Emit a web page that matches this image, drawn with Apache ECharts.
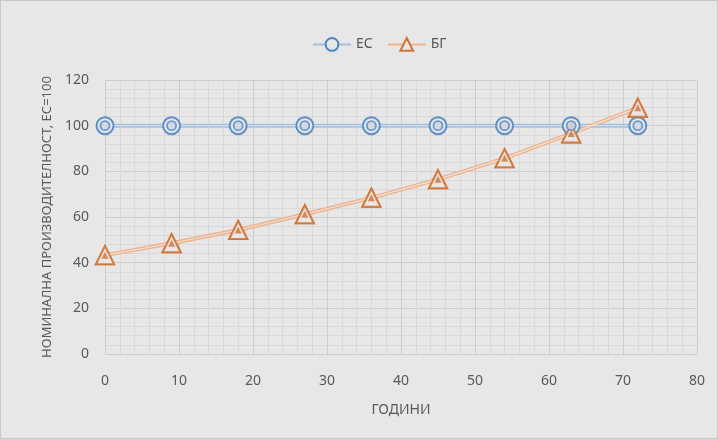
<!DOCTYPE html>
<html><head><meta charset="utf-8">
<script src="https://cdn.jsdelivr.net/npm/echarts@6/dist/echarts.min.js"></script>
<style>html,body{margin:0;padding:0;background:#e7e7e7;}#c{width:718px;height:439px;box-sizing:border-box;border:1px solid #c8c8c8;}</style>
</head><body><div id="c"></div>
<script>
var years = [0, 9, 18, 27, 36, 45, 54, 63, 72];
var esValues = [100, 100, 100, 100, 100, 100, 100, 100, 100];
var bgValues = [43.3, 48.5, 54.3, 61.2, 68.4, 76.5, 85.7, 96.6, 107.8];
var xTicks = {min: 0, max: 80, interval: 10};
var yTicks = {min: 0, max: 120, interval: 20};

function pts(v){ return years.map(function(x,i){ return [x, v[i]]; }); }
var bg = '#e7e7e7';
var blue = '#4f86c0', blueLine = '#a6c0de';
var orange = '#d27336', orangeLine = '#efb38c';
var font = '"Noto Sans", sans-serif';

var chart = echarts.init(document.getElementById('c'));
chart.setOption({
  backgroundColor: bg,
  animation: false,
  legend: {
    top: 31, left: 306, itemWidth: 38, itemHeight: 16, itemGap: 14,
    textStyle: {color: '#595959', fontSize: 14, fontFamily: font},
    data: ['ЕС', 'БГ']
  },
  grid: {left: 104, right: 20, top: 79, bottom: 84},
  xAxis: {
    type: 'value', min: xTicks.min, max: xTicks.max, interval: xTicks.interval,
    name: 'ГОДИНИ', nameLocation: 'middle', nameGap: 49,
    nameTextStyle: {color: '#595959', fontSize: 14, fontFamily: font},
    axisLine: {show: false}, axisTick: {show: false},
    axisLabel: {color: '#595959', fontSize: 14, fontFamily: font, margin: 20},
    splitLine: {lineStyle: {color: '#cdcdcd', width: 1}},
    minorTick: {show: false, splitNumber: 5},
    minorSplitLine: {show: true, lineStyle: {color: '#d9d9d9', width: 1}}
  },
  yAxis: {
    type: 'value', min: yTicks.min, max: yTicks.max, interval: yTicks.interval,
    name: 'НОМИНАЛНА ПРОИЗВОДИТЕЛНОСТ, ЕС=100', nameLocation: 'middle', nameGap: 44,
    nameTextStyle: {color: '#595959', fontSize: 13, fontFamily: font},
    axisLine: {show: false}, axisTick: {show: false},
    axisLabel: {color: '#595959', fontSize: 14, fontFamily: font, margin: 16},
    splitLine: {lineStyle: {color: '#cdcdcd', width: 1}},
    minorTick: {show: false, splitNumber: 5},
    minorSplitLine: {show: true, lineStyle: {color: '#d9d9d9', width: 1}}
  },
  series: [
    {name: 'ЕС', type: 'line', data: pts(esValues), z: 2,
     lineStyle: {color: blueLine, width: 4}, symbol: 'circle', symbolSize: 16,
     itemStyle: {color: bg, borderColor: blue, borderWidth: 2}},
    {name: 'БГ', type: 'line', data: pts(bgValues), z: 2,
     lineStyle: {color: orangeLine, width: 4}, symbol: 'triangle', symbolSize: 18,
     itemStyle: {color: bg, borderColor: orange, borderWidth: 2}},
    {name: 'es_in', type: 'line', data: pts(esValues), z: 3, showSymbol: false, silent: true,
     lineStyle: {color: '#dbe3ec', width: 1}},
    {name: 'bg_in', type: 'line', data: pts(bgValues), z: 3, showSymbol: false, silent: true,
     lineStyle: {color: '#ece3dc', width: 1.2}},
    {name: 'es_m', type: 'scatter', data: pts(esValues), z: 4, symbol: 'circle', symbolSize: 17, silent: true,
     itemStyle: {color: bg, borderColor: blue, borderWidth: 2}},
    {name: 'es_m2', type: 'scatter', data: pts(esValues), z: 5, symbol: 'circle', symbolSize: 9, silent: true,
     itemStyle: {color: '#cfd6df', borderColor: blue, borderWidth: 1.8}},
    {name: 'bg_m', type: 'scatter', data: pts(bgValues), z: 4, symbol: 'triangle', symbolSize: 18, silent: true,
     itemStyle: {color: bg, borderColor: orange, borderWidth: 2}},
    {name: 'bg_m2', type: 'scatter', data: pts(bgValues), z: 5, symbol: 'triangle', symbolSize: 7, silent: true,
     itemStyle: {color: orange}}
  ]
});
</script></body></html>
